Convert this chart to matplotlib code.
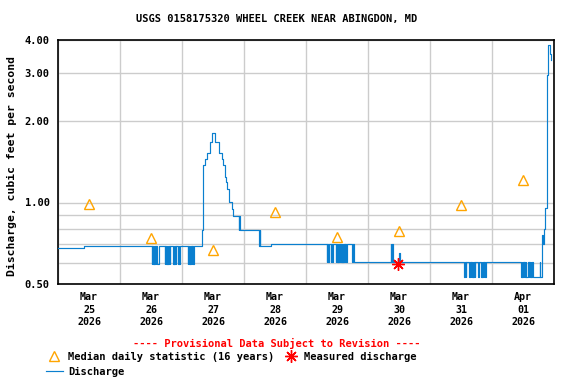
import pandas as pd
import matplotlib
matplotlib.use("Agg")
import matplotlib.pyplot as plt
import matplotlib.dates as mdates
from matplotlib.lines import Line2D
from matplotlib.ticker import FixedLocator, NullFormatter

plt.rcParams["font.family"] = "DejaVu Sans Mono"
plt.rcParams["font.weight"] = "bold"

start = pd.Timestamp("2026-03-25 00:00")

# discharge levels seen on the chart (cfs)
A, B, C = 0.689, 0.595, 0.677
D, E = 0.703, 0.605
F = 0.53

# step changes: (hours since Mar 25 00:00, discharge)
discharge_steps = [
    (0.0, C), (10.2, A),
    (36.25, B), (36.5, A), (36.75, B), (37.0, A), (37.25, B), (37.5, A),
    (37.75, B), (38.0, A), (38.25, B), (39.0, A),
    (41.25, B), (41.5, A), (41.75, B), (42.0, A), (42.25, B), (42.5, A),
    (42.75, B), (43.0, A), (43.25, B), (43.5, A),
    (44.5, B), (44.75, A), (45.0, B), (45.25, A), (45.5, B), (45.75, A),
    (46.5, B), (46.75, A), (47.0, B), (47.25, A),
    (50.25, B), (50.5, A), (50.75, B), (51.0, A), (51.25, B), (51.5, A),
    (51.75, B), (52.0, A), (52.25, B), (52.5, A),
    (55.6, 0.79), (56.2, 1.38), (56.8, 1.445), (57.6, 1.52), (58.7, 1.67),
    (59.7, 1.81), (60.7, 1.67), (62.2, 1.52), (63.4, 1.445), (63.7, 1.38),
    (64.5, 1.245), (65.0, 1.186), (65.5, 1.117), (66.3, 1.003), (67.5, 0.948),
    (67.9, 0.891), (70.0, 0.79), (70.25, 0.891), (70.5, 0.79),
    (77.75, A), (78.0, 0.79), (78.25, A),
    (82.5, D),
    (104.0, E), (104.25, D), (104.5, E), (104.75, D),
    (105.5, E), (105.75, D), (106.25, E), (106.5, D),
    (107.5, E), (107.75, D), (108.0, E), (108.25, D), (108.5, E), (108.75, D),
    (109.0, E), (109.25, D), (109.5, E), (109.75, D), (110.0, E), (110.25, D),
    (110.5, E), (110.75, D), (111.0, E), (111.25, D), (111.5, E), (111.75, D),
    (113.75, E), (114.0, D), (114.5, E),
    (128.75, D), (129.0, E), (129.25, D), (129.5, E),
    (132.0, 0.652), (132.25, E),
    (157.25, F), (157.5, E), (157.75, F), (158.0, E),
    (159.25, F), (159.5, E), (159.75, F), (160.0, E), (160.25, F), (160.5, E),
    (160.75, F), (161.0, E), (161.25, F), (161.5, E),
    (162.75, F), (163.0, E),
    (163.75, F), (164.0, E), (164.25, F), (164.5, E), (164.75, F), (165.0, E),
    (165.25, F), (165.5, E),
    (179.25, F), (179.5, E), (179.75, F), (180.0, E), (180.25, F), (180.5, E),
    (180.75, F), (181.0, E), (181.25, F), (182.0, E), (182.25, F), (182.5, E),
    (182.75, F), (183.0, E), (183.25, F), (183.5, E), (183.75, F),
    (186.5, E), (186.75, F),
    (187.25, 0.70), (187.5, 0.76), (187.75, 0.70), (188.0, 0.796),
    (188.4, 0.90), (188.7, 0.957), (189.3, 2.95), (189.8, 3.83),
    (190.6, 3.55), (190.85, 3.35), (191.0, 3.35),
]

median_days = pd.date_range("2026-03-25 12:00", periods=8, freq="D")
median_vals = [0.99, 0.737, 0.665, 0.926, 0.743, 0.782, 0.982, 1.207]

measured_time = [pd.Timestamp("2026-03-30 11:35")]
measured_vals = [0.593]

y_major = [0.5, 1.0, 2.0, 3.0, 4.0]
y_minor = [0.6, 0.7, 0.8, 0.9]

blue = "#0a7fcf"
orange = "#ffa500"

hours = [h for h, v in discharge_steps]
q = [v for h, v in discharge_steps]
times = start + pd.to_timedelta(hours, unit="h")

fig = plt.figure(figsize=(5.76, 3.84), dpi=100)
ax = fig.add_axes([58 / 576, 1 - 284 / 384, 496 / 576, 244.5 / 384])

ax.plot(times, q, color=blue, lw=0.85, drawstyle="steps-post", zorder=3)
ax.plot(median_days, median_vals, ls="none", marker="^", ms=7.5, mfc="none",
        mec=orange, mew=1.0, zorder=4)
ax.plot(measured_time, measured_vals, ls="none", marker=(8, 2, 0), ms=9,
        color="red", mew=1.0, zorder=5)

ax.set_yscale("log")
ax.set_ylim(0.5, 4.0)
ax.yaxis.set_major_locator(FixedLocator(y_major))
ax.set_yticklabels(["%.2f" % v for v in y_major])
ax.yaxis.set_minor_locator(FixedLocator(y_minor))
ax.yaxis.set_minor_formatter(NullFormatter())

ax.set_xlim(start, start + pd.Timedelta(days=8))
ax.set_xticks(median_days)
ax.set_xticklabels([d.strftime("%b\n%d\n%Y") for d in median_days])
ax.xaxis.set_minor_locator(mdates.DayLocator())

ax.grid(True, which="minor", color="#cccccc", lw=1)
ax.grid(True, which="major", axis="y", color="#cccccc", lw=1)
ax.set_axisbelow(True)
ax.tick_params(which="both", length=0, labelsize=7.5, pad=6)
ax.tick_params(axis="x", labelsize=7.2, pad=6)
for lab in ax.get_xticklabels():
    lab.set_linespacing(1.3)
for sp in ax.spines.values():
    sp.set_linewidth(1.2)

fig.text(277 / 576, 1 - 19 / 384, "USGS 0158175320 WHEEL CREEK NEAR ABINGDON, MD",
         ha="center", va="center", fontsize=7.5)
fig.text(12 / 576, 1 - 166 / 384, "Discharge, cubic feet per second",
         ha="center", va="center", rotation=90, fontsize=8.2)
fig.text(277 / 576, 1 - 343 / 384, "---- Provisional Data Subject to Revision ----",
         ha="center", va="center", fontsize=7.5, color="red")

handles = [
    Line2D([], [], ls="none", marker="^", ms=7.5, mfc="none", mec=orange),
    Line2D([], [], color=blue, lw=0.85),
    Line2D([], [], ls="none", marker=(8, 2, 0), ms=9, color="red"),
]
labels = ["Median daily statistic (16 years)", "Discharge", "Measured discharge"]
fig.legend(handles, labels, ncol=2, loc="upper left",
           bbox_to_anchor=(46 / 576, 1 - 352 / 384), frameon=False,
           fontsize=7.5, handlelength=1.6, handletextpad=0.5,
           columnspacing=0.8, labelspacing=0.45, borderpad=0, borderaxespad=0)

fig.savefig("out.png", dpi=100)
